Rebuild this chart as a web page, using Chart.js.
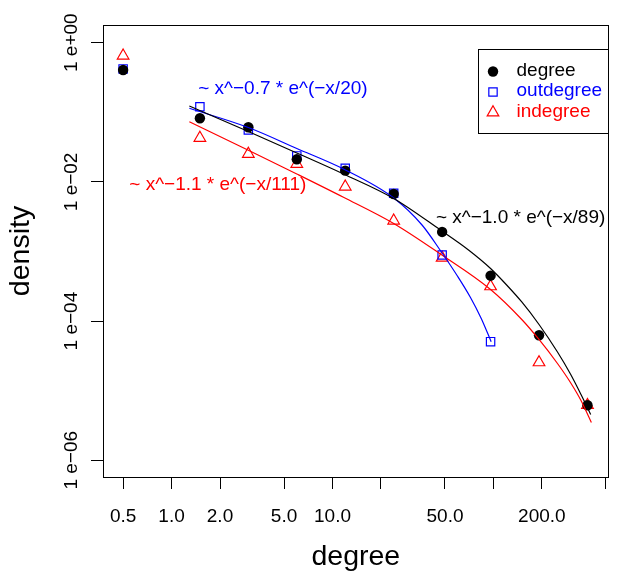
<!DOCTYPE html>
<html>
<head>
<meta charset="utf-8">
<title>degree distribution</title>
<script src="https://cdn.jsdelivr.net/npm/chart.js@4.4.1/dist/chart.umd.min.js"></script>
<style>
  body { margin: 0; background: #ffffff; }
  canvas { display: block; }
</style>
</head>
<body>
<canvas id="myChart" width="622" height="574"></canvas>
<script>
// binned degrees (log bins)
const degreeBins = [0.5, 1.5, 3, 6, 12, 24, 48, 96, 192, 384];
const outdegreeBins = [0.5, 1.5, 3, 6, 12, 24, 48, 96];

// densities
const degreeDensity = [0.405, 0.082, 0.0609, 0.0211, 0.0145, 0.0067, 0.00191, 4.49e-4, 6.25e-5, 6.17e-6];
const outdegreeDensity = [0.42, 0.120, 0.0557, 0.0236, 0.0157, 0.00686, 8.9e-4, 5.06e-5];
const indegreeDensity = [0.65, 0.0428, 0.0252, 0.0181, 0.00853, 0.00277, 8.1e-4, 3.15e-4, 2.55e-5, 6.2e-6];

// fitted curves, sampled from the plot
const degreeFitX = [1.29, 3, 6, 11.7, 24, 46.8, 70, 96, 120, 150, 192, 250, 301, 350, 402];
const degreeFitY = [0.1232, 0.05298, 0.02602, 0.01299, 0.005775, 0.002036, 1.051e-3, 5.697e-4, 3.356e-4, 1.881e-4, 8.935e-5, 3.597e-5, 1.737e-5, 8.82e-6, 4.55e-6];
const outdegreeFitX = [1.29, 3, 6, 11.7, 24, 36, 46.8, 60, 72, 84, 96.8];
const outdegreeFitY = [0.1142, 0.06046, 0.03019, 0.01532, 0.00587, 0.002403, 0.001034, 4.372e-4, 2.183e-4, 1.09e-4, 5.058e-5];
const indegreeFitX = [1.29, 3, 6, 11.7, 24, 46.8, 96, 150, 193, 250, 301, 350, 406];
const indegreeFitY = [0.07327, 0.02844, 0.01299, 0.006008, 0.002526, 9.206e-4, 2.844e-4, 1.054e-4, 5.352e-5, 2.459e-5, 1.312e-5, 7.228e-6, 3.492e-6];

const fitLabels = ["~ x^\u22121.0 * e^(\u2212x/89)", "~ x^\u22120.7 * e^(\u2212x/20)", "~ x^\u22121.1 * e^(\u2212x/111)"];

const xTicks = [0.5, 1, 2, 5, 10, 20, 50, 100, 200, 500];
const xTickLabels = ["0.5", "1.0", "2.0", "5.0", "10.0", "", "50.0", "", "200.0", ""];
const yTicks = [1, 1e-2, 1e-4, 1e-6];
const yTickLabels = ["1 e+00", "1 e\u221202", "1 e\u221204", "1 e\u221206"];

const FONT = "'Liberation Sans', Arial, Helvetica, sans-serif";
Chart.defaults.font.family = FONT;
Chart.defaults.color = "#000";

function pairs(xs, ys) {
  return xs.map((v, i) => ({ x: v, y: ys[i] }));
}

function fitLine(xs, ys, color) {
  return {
    data: pairs(xs, ys),
    showLine: true,
    borderColor: color,
    borderWidth: 1.2,
    pointRadius: 0,
    cubicInterpolationMode: "monotone",
    order: 1,
  };
}

// frame, fit labels and legend box like base R graphics
const rPlotExtras = {
  id: "rPlotExtras",
  afterDraw(chart, args, opts) {
    const { ctx, chartArea: a } = chart;
    const xs = chart.scales.x, ys = chart.scales.y;
    ctx.save();
    ctx.strokeStyle = "#000";
    ctx.lineWidth = 1;
    const l = Math.round(a.left) + 0.5, t = Math.round(a.top) + 0.5;
    const r = Math.round(a.right) - 0.5, b = Math.round(a.bottom) + 0.5;
    ctx.strokeRect(l, t, r - l, b - t);

    ctx.font = "19px " + FONT;
    ctx.textAlign = "left";
    ctx.textBaseline = "middle";
    opts.notes.forEach((n) => {
      ctx.fillStyle = n.color;
      ctx.fillText(n.text, xs.getPixelForValue(n.x), ys.getPixelForValue(n.y));
    });

    const lg = opts.legend;
    ctx.strokeStyle = "#000";
    ctx.strokeRect(lg.left + 0.5, lg.top + 0.5, lg.width, lg.height);
    chart.data.datasets.filter((d) => d.label).forEach((d, i) => {
      const yy = lg.top + lg.firstRow + i * lg.rowGap;
      ctx.fillStyle = d.backgroundColor;
      ctx.strokeStyle = d.borderColor;
      ctx.lineWidth = d.borderWidth;
      Chart.helpers.drawPoint(ctx, {
        pointStyle: d.pointStyle,
        radius: d.pointRadius,
        borderWidth: d.borderWidth,
        rotation: 0,
      }, lg.left + lg.symbolX, yy);
      ctx.fillStyle = d.borderColor;
      ctx.fillText(d.label, lg.left + lg.textX, yy - 1);
    });
    ctx.restore();
  },
};

const ctx = document.getElementById("myChart");

const myChart = new Chart(ctx, {
  type: "scatter",
  data: {
    datasets: [
      {
        label: "degree",
        data: pairs(degreeBins, degreeDensity),
        pointStyle: "circle",
        pointRadius: 5.2,
        backgroundColor: "#000000",
        borderColor: "#000000",
        borderWidth: 0,
        order: 2,
      },
      {
        label: "outdegree",
        data: pairs(outdegreeBins, outdegreeDensity),
        pointStyle: "rect",
        pointRadius: 5.9,
        backgroundColor: "rgba(0,0,0,0)",
        borderColor: "#0000ff",
        borderWidth: 1.2,
        order: 2,
      },
      {
        label: "indegree",
        data: pairs(degreeBins, indegreeDensity),
        pointStyle: "triangle",
        pointRadius: 6.7,
        backgroundColor: "rgba(0,0,0,0)",
        borderColor: "#ff0000",
        borderWidth: 1.2,
        order: 2,
      },
      fitLine(degreeFitX, degreeFitY, "#000000"),
      fitLine(outdegreeFitX, outdegreeFitY, "#0000ff"),
      fitLine(indegreeFitX, indegreeFitY, "#ff0000"),
    ],
  },
  options: {
    responsive: false,
    maintainAspectRatio: false,
    animation: false,
    events: [],
    layout: { padding: { left: 0, top: 25, right: 13, bottom: 0 } },
    scales: {
      x: {
        type: "logarithmic",
        min: 0.375,
        max: 520,
        afterBuildTicks: (scale) => {
          scale.ticks = xTicks.map((v) => ({ value: v }));
        },
        afterFit: (scale) => {
          scale.height = 97;
        },
        ticks: {
          autoSkip: false,
          minRotation: 0,
          maxRotation: 0,
          padding: 16,
          color: "#000",
          font: { size: 19 },
          callback: (value, index) => xTickLabels[index],
        },
        grid: {
          drawOnChartArea: false,
          drawTicks: true,
          tickLength: 12,
          tickColor: "#000",
          tickWidth: 1,
        },
        border: { display: true, color: "#000", width: 1 },
        title: {
          display: true,
          text: "degree",
          color: "#000",
          font: { size: 28.5 },
          padding: { top: 0, bottom: 0 },
        },
      },
      y: {
        type: "logarithmic",
        min: 5.75e-7,
        max: 1.796,
        afterBuildTicks: (scale) => {
          scale.ticks = yTicks.map((v) => ({ value: v }));
        },
        afterFit: (scale) => {
          scale.width = 103;
        },
        ticks: {
          autoSkip: false,
          minRotation: 90,
          maxRotation: 90,
          crossAlign: "center",
          padding: -10.3,
          color: "#000",
          font: { size: 19 },
          callback: (value, index) => yTickLabels[index],
        },
        grid: {
          drawOnChartArea: false,
          drawTicks: true,
          tickLength: 12,
          tickColor: "#000",
          tickWidth: 1,
        },
        border: { display: true, color: "#000", width: 1 },
        title: {
          display: true,
          text: "density",
          color: "#000",
          font: { size: 28.5 },
          padding: { top: 4.5, bottom: 0 },
        },
      },
    },
    plugins: {
      legend: { display: false },
      tooltip: { enabled: false },
      rPlotExtras: {
        notes: [
          { text: fitLabels[0], x: 43.9, y: 0.00309, color: "#000000" },
          { text: fitLabels[1], x: 1.464, y: 0.2205, color: "#0000ff" },
          { text: fitLabels[2], x: 0.546, y: 0.00903, color: "#ff0000" },
        ],
        legend: { left: 478, top: 49, width: 130, height: 84, firstRow: 22.5, rowGap: 20.5, symbolX: 15, textX: 38.5 },
      },
    },
  },
  plugins: [rPlotExtras],
});
</script>
</body>
</html>
